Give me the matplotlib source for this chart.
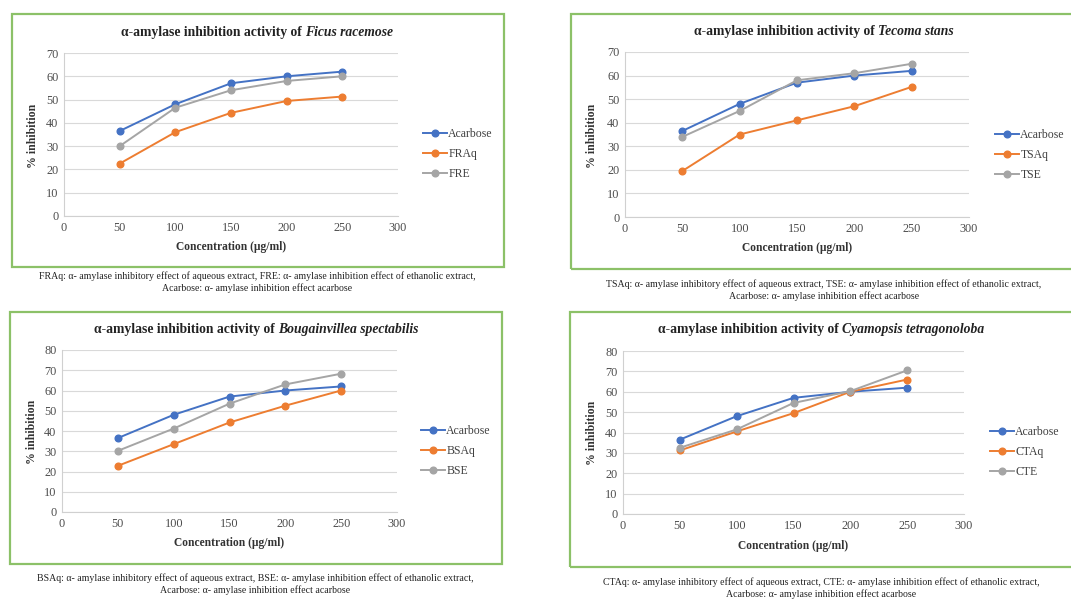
import matplotlib
matplotlib.use("Agg")
import matplotlib.pyplot as plt
from matplotlib.patches import Rectangle

plt.rcParams['font.family'] = ['Liberation Serif', 'DejaVu Serif']

# ---- data ----
conc = [50, 100, 150, 200, 250]
acarbose = [36.5, 48.0, 57.0, 60.0, 62.0]

fr_aq = [22.5, 36.0, 44.3, 49.4, 51.3]
fr_et = [30.0, 46.5, 54.0, 58.0, 60.0]

ts_aq = [19.5, 35.0, 41.0, 47.0, 55.2]
ts_et = [34.0, 45.0, 58.0, 61.0, 65.0]

bs_aq = [22.8, 33.5, 44.2, 52.5, 60.0]
bs_et = [30.2, 41.2, 53.5, 63.0, 68.3]

ct_aq = [31.2, 40.5, 49.5, 60.0, 66.0]
ct_et = [32.5, 41.5, 54.5, 60.3, 70.5]

species = ["Ficus racemose", "Tecoma stans", "Bougainvillea spectabilis", "Cyamopsis tetragonoloba"]
codes = [("FRAq", "FRE"), ("TSAq", "TSE"), ("BSAq", "BSE"), ("CTAq", "CTE")]
aq_series = [fr_aq, ts_aq, bs_aq, ct_aq]
et_series = [fr_et, ts_et, bs_et, ct_et]
ymaxes = [70, 70, 80, 80]
xticks = [0, 50, 100, 150, 200, 250, 300]

W, H = 1071, 599
fig = plt.figure(figsize=(W / 100, H / 100), dpi=100)
fig.patch.set_facecolor('white')

def fx(x):
    return x / W

def fy(y):
    return 1 - y / H

BLUE, ORANGE, GRAY = '#4472C4', '#ED7D31', '#A5A5A5'
GREEN = '#8CC168'

# layout (pixel coordinates)
layouts = [
    dict(border=(12, 14, 504, 267), ax=(64, 53, 398, 216), title=(257, 36),
         leg=(423, 154), ylab=(33, 136), xlab=(231, 247), cap=(257, 276)),
    dict(border=(571, 14, 1085, 269), ax=(625, 52, 969, 217), title=(824, 35),
         leg=(995, 155), ylab=(592, 136), xlab=(797, 248), cap=(824, 284)),
    dict(border=(10, 312, 502, 564), ax=(62, 350, 397, 512), title=(256, 333),
         leg=(421, 451), ylab=(32, 432), xlab=(229, 543), cap=(255, 578)),
    dict(border=(570, 312, 1085, 567), ax=(623, 351, 964, 514), title=(821, 333),
         leg=(990, 452), ylab=(592, 433), xlab=(793, 546), cap=(821, 582)),
]

renderer = fig.canvas.get_renderer()

for i, L in enumerate(layouts):
    bx0, by0, bx1, by1 = L['border']
    fig.patches.append(Rectangle((fx(bx0), fy(by1)), fx(bx1 - bx0), (by1 - by0) / H,
                                 transform=fig.transFigure, fill=False,
                                 edgecolor=GREEN, linewidth=1.6, zorder=0))
    ax0, ay0, ax1, ay1 = L['ax']
    ax = fig.add_axes([fx(ax0), fy(ay1), fx(ax1 - ax0), (ay1 - ay0) / H])
    ax.set_xlim(0, 300)
    ax.set_ylim(0, ymaxes[i])
    ax.set_xticks(xticks)
    ax.set_yticks(range(0, ymaxes[i] + 1, 10))
    ax.tick_params(length=0, labelsize=8.8, colors='#4d4d4d', pad=4)
    ax.grid(axis='y', color='#D9D9D9', linewidth=0.8)
    ax.set_axisbelow(True)
    for s in ['top', 'right']:
        ax.spines[s].set_visible(False)
    for s in ['left', 'bottom']:
        ax.spines[s].set_color('#D0D0D0')
        ax.spines[s].set_linewidth(0.8)
    aq_code, et_code = codes[i]
    ax.plot(conc, acarbose, color=BLUE, marker='o', ms=4.8, lw=1.4, label='Acarbose')
    ax.plot(conc, aq_series[i], color=ORANGE, marker='o', ms=4.8, lw=1.4, label=aq_code)
    ax.plot(conc, et_series[i], color=GRAY, marker='o', ms=4.8, lw=1.4, label=et_code)

    lx, ly = L['leg']
    fig.legend(handles=ax.get_lines(), loc='center left',
               bbox_to_anchor=(fx(lx), fy(ly)), frameon=False, fontsize=8.5,
               handlelength=2.0, handletextpad=0.15, labelspacing=0.65,
               borderaxespad=0, borderpad=0, labelcolor='#404040')

    # axis labels
    fig.text(fx(L['ylab'][0]), fy(L['ylab'][1]), '% inhibition', rotation=90,
             ha='center', va='center', fontsize=8.5, fontweight='bold', color='#333333')
    fig.text(fx(L['xlab'][0]), fy(L['xlab'][1]), 'Concentration (µg/ml)',
             ha='center', va='center', fontsize=8.3, fontweight='bold', color='#333333')

    # title: bold + bold italic, sharing a baseline
    tx, ty = L['title']
    t1 = fig.text(0, fy(ty), 'α-amylase inhibition activity of ', ha='left', va='baseline',
                  fontsize=9.8, fontweight='bold', color='#222222')
    t2 = fig.text(0, fy(ty), species[i], ha='left', va='baseline',
                  fontsize=9.8, fontweight='bold', fontstyle='italic', color='#222222')
    w1 = t1.get_window_extent(renderer).width
    w2 = t2.get_window_extent(renderer).width
    start = tx - (w1 + w2) / 2
    t1.set_x(fx(start))
    t2.set_x(fx(start + w1))

    # caption
    cx, cy = L['cap']
    fig.text(fx(cx), fy(cy),
             f'{aq_code}: α- amylase inhibitory effect of aqueous extract, {et_code}: '
             f'α- amylase inhibition effect of ethanolic extract,',
             ha='center', va='center', fontsize=7.1, color='#222222')
    fig.text(fx(cx), fy(cy + 12), 'Acarbose: α- amylase inhibition effect acarbose',
             ha='center', va='center', fontsize=7.1, color='#222222')

fig.savefig('out.png', dpi=100)
